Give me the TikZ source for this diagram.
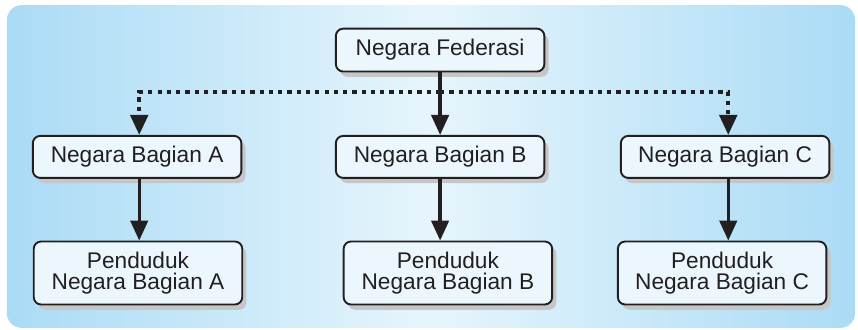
\documentclass[tikz,border=0pt]{standalone}
\usepackage{fontspec}
\setmainfont{Liberation Sans}
\usetikzlibrary{arrows.meta,shadows}

\definecolor{bgedge}{RGB}{170,219,245}
\definecolor{bgmid}{RGB}{230,245,252}
\definecolor{boxfill}{RGB}{236,247,253}
\definecolor{boxshadow}{RGB}{198,198,198}
\definecolor{garis}{RGB}{35,31,32}

\tikzset{
	kotak/.style={draw=garis, line width=1.8pt, rounded corners=7pt, fill=boxfill,
		minimum width=6.95cm, minimum height=1.4cm, align=center, text=garis,
		font=\fontsize{21.5}{20.5}\selectfont,
		drop shadow={shadow xshift=4pt, shadow yshift=-5pt, fill=boxshadow, opacity=1}},
	panah/.style={->, draw=garis, line width=3.2pt},
	panahtitik/.style={->, draw=garis, line width=3.8pt, dash pattern=on 4pt off 4.8pt}
}

\begin{document}
\begin{tikzpicture}[>={Triangle[length=19pt,width=16.5pt]}]
		
		% 1. Latar belakang
		\useasboundingbox (0,0) rectangle (28.6,11);
		\shade[rounded corners=14pt, left color=bgedge, right color=bgedge, middle color=bgmid]
		(0.23,0.07) rectangle (28.5,10.83);
		
		% 2. Kotak-kotak
		\node[kotak, minimum height=1.43cm] (federasi) at (14.67,9.33) {Negara Federasi};
		
		\node[kotak] (bagianA) at (4.57,5.77) {Negara Bagian A};
		\node[kotak] (bagianB) at (14.67,5.77) {Negara Bagian B};
		\node[kotak] (bagianC) at (24.17,5.77) {Negara Bagian C};
		
		\node[kotak, minimum height=2.1cm] (pendudukA) at (4.6,1.9) {Penduduk\\Negara Bagian A};
		\node[kotak, minimum height=2.1cm] (pendudukB) at (14.93,1.9) {Penduduk\\Negara Bagian B};
		\node[kotak, minimum height=2.1cm] (pendudukC) at (24.07,1.9) {Penduduk\\Negara Bagian C};
		
		% 3. Panah
		\coordinate (cabang) at (14.67,7.93);
		\draw[panahtitik] (cabang) -| ([xshift=2pt]bagianA.north);
		\draw[panahtitik] (cabang) -| ([xshift=3pt]bagianC.north);
		\draw[panah] (federasi) -- (bagianB);
		
		\draw[panah] ([xshift=2pt]bagianA.south) -- ([xshift=2pt]bagianA.south |- pendudukA.north);
		\draw[panah] (bagianB.south) -- (bagianB.south |- pendudukB.north);
		\draw[panah] ([xshift=3pt]bagianC.south) -- ([xshift=3pt]bagianC.south |- pendudukC.north);
		
	\end{tikzpicture}
\end{document}
